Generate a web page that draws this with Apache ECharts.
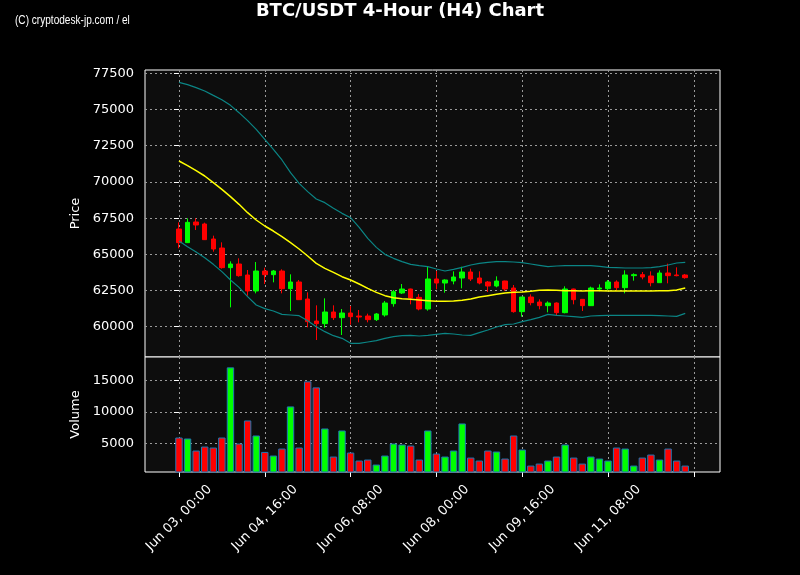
<!DOCTYPE html>
<html>
<head>
<meta charset="utf-8">
<script src="https://cdn.jsdelivr.net/npm/echarts@6/dist/echarts.min.js"></script>
<style>
  html, body { margin: 0; padding: 0; background: #000; }
  #chart { width: 800px; height: 575px; }
</style>
</head>
<body>
<div id="chart"></div>
<script>
// 4H candles, index 0 = Jun 03 00:00
const open = [66750, 65806, 67233, 67095, 66059, 65437, 64079, 64332, 63573, 62468, 63849, 63596, 63849, 62629, 63090, 61915, 60396, 60212, 61018, 60627, 60948, 60740, 60741, 60488, 60811, 61593, 62330, 62606, 62030, 61224, 63297, 63020, 63158, 63366, 63780, 63366, 63090, 62813, 63158, 62675, 61041, 62053, 61708, 61455, 61639, 60972, 62606, 61892, 61455, 62606, 62629, 63090, 62698, 63527, 63596, 63504, 63043, 63711, 63573, 63573]
const close = [65806, 67210, 67026, 66013, 65368, 64079, 64332, 63527, 62468, 63849, 63596, 63849, 62629, 63090, 61870, 60350, 60212, 61018, 60627, 60948, 60695, 60672, 60488, 60880, 61639, 62422, 62606, 61984, 61224, 63297, 63020, 63227, 63434, 63780, 63297, 63020, 62813, 63158, 62606, 61041, 62053, 61662, 61455, 61639, 60972, 62606, 61869, 61455, 62675, 62675, 63090, 62698, 63573, 63596, 63434, 63043, 63711, 63527, 63527, 63389]
const high = [67210, 67486, 67486, 67187, 66289, 65829, 64517, 64724, 63918, 64471, 64079, 63918, 63964, 63619, 63227, 62376, 61478, 61961, 61478, 61224, 61432, 61156, 60903, 60948, 61778, 62537, 62951, 62630, 62261, 64148, 63849, 63273, 63826, 64148, 64010, 63826, 63158, 63481, 63180, 62882, 62053, 62238, 61892, 61754, 61685, 62790, 62630, 61892, 62767, 62928, 63227, 63204, 63895, 63688, 63780, 63826, 63895, 64355, 64102, 63642]
const low = [65414, 65783, 66680, 65990, 65184, 64010, 61340, 63458, 62145, 62307, 62951, 63066, 62307, 61087, 61850, 59958, 59084, 59935, 60465, 59429, 60143, 60304, 60304, 60396, 60695, 61386, 62261, 61547, 61132, 61109, 62583, 62353, 62928, 62652, 63158, 62928, 62399, 62721, 62468, 60972, 60695, 61478, 61201, 60994, 60741, 60925, 61547, 61087, 61430, 62445, 62537, 62468, 62307, 63181, 63273, 62790, 63043, 62997, 63481, 63319]
const volume = [5952, 5794, 3889, 4524, 4365, 5952, 17063, 5000, 8651, 6270, 3667, 3095, 4206, 10873, 4365, 14841, 13889, 7381, 2937, 7063, 3571, 2302, 2460, 1667, 3095, 5000, 4841, 4683, 2460, 7063, 3413, 2937, 3889, 8175, 2778, 2302, 3889, 3730, 2619, 6270, 4048, 1508, 1825, 2302, 2937, 4841, 2778, 1825, 2937, 2619, 2302, 4365, 4206, 1508, 2778, 3254, 2460, 4206, 2302, 1508]

// Bollinger bands (20, 2)
const bbUpper = [76878, 76717, 76510, 76280, 75980, 75681, 75290, 74783, 74231, 73632, 72942, 72251, 71515, 70640, 69903, 69328, 68821, 68568, 68177, 67831, 67532, 66865, 66105, 65483, 65000, 64724, 64494, 64310, 64217, 64148, 63987, 63849, 63964, 64102, 64263, 64378, 64447, 64494, 64494, 64471, 64425, 64332, 64240, 64148, 64194, 64217, 64217, 64217, 64217, 64171, 64102, 64079, 64056, 64056, 64056, 64079, 64148, 64263, 64401, 64447]
const bbMid = [71446, 71123, 70778, 70410, 69949, 69489, 68982, 68453, 67877, 67371, 66957, 66611, 66220, 65806, 65368, 64885, 64378, 64033, 63757, 63457, 63227, 62951, 62652, 62376, 62146, 62007, 61938, 61892, 61846, 61800, 61754, 61754, 61777, 61823, 61915, 62053, 62146, 62238, 62330, 62376, 62399, 62445, 62514, 62537, 62514, 62491, 62491, 62468, 62491, 62491, 62468, 62468, 62468, 62468, 62468, 62468, 62491, 62491, 62537, 62675]
const bbLower = [65921, 65530, 65161, 64770, 64309, 63803, 63227, 62721, 62077, 61501, 61248, 61087, 60857, 60811, 60765, 60419, 60005, 59660, 59383, 59199, 58854, 58854, 58946, 59038, 59199, 59314, 59383, 59406, 59360, 59406, 59475, 59544, 59498, 59429, 59406, 59590, 59774, 59981, 60143, 60189, 60350, 60488, 60649, 60857, 60787, 60741, 60695, 60649, 60741, 60765, 60787, 60787, 60787, 60787, 60787, 60787, 60765, 60741, 60718, 60925]

const tickIdx = [0, 10, 20, 30, 40, 50, 60]
const tickLabels = ['Jun 03, 00:00', 'Jun 04, 16:00', 'Jun 06, 08:00', 'Jun 08, 00:00', 'Jun 09, 16:00', 'Jun 11, 08:00', '']
const priceTicks = [60000, 62500, 65000, 67500, 70000, 72500, 75000, 77500]
const volumeTicks = [5000, 10000, 15000]

const UP = '#00ff00'
const DOWN = '#ff0000'
const BAND = '#0b8585'
const FONT = 'DejaVu Sans'

const candles = open.map((o, i) => [i, o, close[i], low[i], high[i]])
const volBars = volume.map((v, i) => ({
  value: [i, v],
  itemStyle: { color: close[i] >= open[i] ? UP : DOWN },
}))
const line = (arr) => arr.map((v, i) => [i, v])

const chart = echarts.init(document.getElementById('chart'))

const gridLine = { show: true, lineStyle: { color: '#9a9a9a', type: [2, 3], width: 1 } }
const labelStyle = { color: '#ffffff', fontSize: 13, fontFamily: FONT }

chart.setOption({
  backgroundColor: '#000000',
  animation: false,
  title: {
    text: 'BTC/USDT 4-Hour (H4) Chart',
    left: 'center',
    top: -3,
    textStyle: { color: '#fff', fontSize: 18, fontWeight: 'bold', fontFamily: FONT },
  },
  graphic: [
    {
      type: 'text',
      left: 15,
      top: 15,
      scaleX: 0.84,
      style: { text: '(C) cryptodesk-jp.com / el', fill: '#fff', fontSize: 12, fontFamily: 'Liberation Sans' },
    },
  ],
  grid: [
    { left: 145, top: 70, width: 575, height: 287, show: true, backgroundColor: '#0d0d0d', borderColor: '#fff', borderWidth: 1 },
    { left: 145, top: 357, width: 575, height: 115, show: true, backgroundColor: '#0d0d0d', borderColor: '#fff', borderWidth: 1 },
  ],
  xAxis: [
    {
      gridIndex: 0, type: 'value', min: -3.96, max: 63.05,
      axisLine: { show: false },
      axisTick: { show: false, customValues: tickIdx },
      axisLabel: { show: false },
      splitLine: gridLine,
    },
    {
      gridIndex: 1, type: 'value', min: -3.96, max: 63.05,
      axisLine: { show: false },
      axisTick: { show: true, customValues: tickIdx, length: 5, lineStyle: { color: '#fff' } },
      axisLabel: {
        ...labelStyle,
        customValues: tickIdx,
        rotate: 45,
        align: 'center',
        verticalAlign: 'middle',
        margin: 46,
        formatter: (v) => tickLabels[tickIdx.indexOf(v)] || '',
      },
      splitLine: gridLine,
    },
  ],
  yAxis: [
    {
      gridIndex: 0, type: 'value', min: 57910, max: 77730,
      name: 'Price', nameLocation: 'middle', nameGap: 59, nameRotate: 90,
      nameTextStyle: { color: '#fff', fontSize: 13, fontFamily: FONT },
      axisLine: { show: false },
      axisTick: { show: true, customValues: priceTicks, length: 5, lineStyle: { color: '#fff' } },
      axisLabel: { ...labelStyle, customValues: priceTicks, margin: 11, formatter: (v) => String(v) },
      splitLine: gridLine,
    },
    {
      gridIndex: 1, type: 'value', min: 490, max: 18700,
      name: 'Volume', nameLocation: 'middle', nameGap: 59, nameRotate: 90,
      nameTextStyle: { color: '#fff', fontSize: 13, fontFamily: FONT },
      axisLine: { show: false },
      axisTick: { show: true, customValues: volumeTicks, length: 5, lineStyle: { color: '#fff' } },
      axisLabel: { ...labelStyle, customValues: volumeTicks, margin: 11, formatter: (v) => String(v) },
      splitLine: gridLine,
    },
  ],
  series: [
    {
      type: 'candlestick',
      xAxisIndex: 0, yAxisIndex: 0,
      barWidth: 5,
      data: candles,
      itemStyle: { color: UP, color0: DOWN, borderColor: UP, borderColor0: DOWN, borderWidth: 1 },
      z: 2,
    },
    {
      type: 'line', xAxisIndex: 0, yAxisIndex: 0, data: line(bbUpper),
      showSymbol: false, lineStyle: { color: BAND, width: 1.2 }, z: 3,
    },
    {
      type: 'line', xAxisIndex: 0, yAxisIndex: 0, data: line(bbMid),
      showSymbol: false, lineStyle: { color: '#ffff00', width: 1.5 }, z: 3,
    },
    {
      type: 'line', xAxisIndex: 0, yAxisIndex: 0, data: line(bbLower),
      showSymbol: false, lineStyle: { color: BAND, width: 1.2 }, z: 3,
    },
    {
      type: 'bar',
      xAxisIndex: 1, yAxisIndex: 1,
      barWidth: 7.4,
      data: volBars,
      itemStyle: { borderColor: '#1f77b4', borderWidth: 1 },
    },
  ],
})
</script>
</body>
</html>
